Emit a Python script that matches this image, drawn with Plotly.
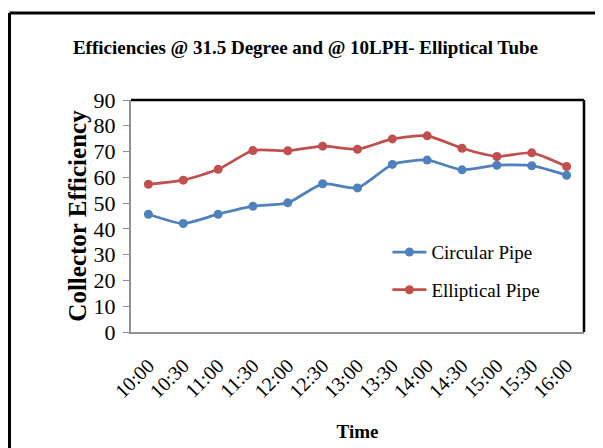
import plotly.graph_objects as go

times = ["10:00", "10:30", "11:00", "11:30", "12:00", "12:30", "13:00",
         "13:30", "14:00", "14:30", "15:00", "15:30", "16:00"]
circular = [45.7, 42.1, 45.7, 48.8, 50.1, 57.5, 55.9, 65.0, 66.7, 62.9, 64.7, 64.5, 60.8]
elliptical = [57.3, 58.9, 63.1, 70.4, 70.3, 72.1, 70.9, 74.9, 76.1, 71.3, 68.1, 69.5, 64.2]
y_ticks = [0, 10, 20, 30, 40, 50, 60, 70, 80, 90]

FONT = "Liberation Serif"
# the page body has an 8px margin, so the figure is 595x440 placed at (8, 8)
W, H = 595, 440
L, R, T, B = 123, 19, 92, 116
PW, PH = W - L - R, H - T - B

fig = go.Figure()
fig.add_trace(go.Scatter(
    x=times, y=circular, name="Circular Pipe", mode="lines+markers",
    line=dict(color="#4F81BD", width=2.75, shape="spline", smoothing=0.6),
    marker=dict(size=9, color="#4F81BD"), legendgroup="a"))
fig.add_trace(go.Scatter(
    x=times, y=elliptical, name="Elliptical Pipe", mode="lines+markers",
    line=dict(color="#C0504D", width=2.75, shape="spline", smoothing=0.6),
    marker=dict(size=9, color="#C0504D"), legendgroup="b"))

fig.update_layout(
    width=W, height=H,
    margin=dict(l=L, r=R, t=T, b=B, autoexpand=False),
    paper_bgcolor="white", plot_bgcolor="white",
    font=dict(family=FONT, color="black", size=18),
    title=dict(text="<b>Efficiencies @ 31.5 Degree and @ 10LPH- Elliptical Tube</b>",
               x=0.5, xanchor="center", y=1 - 39 / H, yanchor="middle",
               yref="container", font=dict(family=FONT, size=19)),
    showlegend=True,
    legend=dict(x=0.566, y=0.426, xanchor="left", yanchor="top",
                bgcolor="rgba(0,0,0,0)", font=dict(family=FONT, size=19),
                tracegroupgap=10, traceorder="grouped", itemwidth=34),
    xaxis=dict(type="category", range=[-0.5, 12.5], tickangle=-45,
               showline=True, linecolor="#909090", linewidth=2, automargin=False,
               ticks="", showgrid=False, tickfont=dict(size=20), ticklabelstandoff=12,
               title=dict(text="<b>Time</b>", font=dict(size=19), standoff=24)),
    yaxis=dict(range=[0, 90], tickvals=y_ticks, showline=True, linecolor="#909090",
               linewidth=2, ticks="outside", ticklen=6, tickcolor="#909090",
               automargin=False, ticklabelstandoff=3,
               showgrid=False, zeroline=False, tickfont=dict(size=22),
               title=dict(text="<b>Collector Efficiency</b>", font=dict(size=25), standoff=0)),
    shapes=[
        dict(type="line", xref="paper", yref="paper", x0=0, x1=1, y0=1, y1=1,
             line=dict(color="black", width=2.5)),
        dict(type="line", xref="paper", yref="paper", x0=1, x1=1, y0=0, y1=1,
             line=dict(color="black", width=2.5)),
        dict(type="line", xref="paper", yref="paper",
             x0=-(L - 1.5) / PW, x1=-(L - 1.5) / PW, y0=-B / PH, y1=1 + (T - 5) / PH,
             line=dict(color="black", width=3)),
        dict(type="line", xref="paper", yref="paper",
             x0=-(L - 1.5) / PW, x1=1 + R / PW, y0=1 + (T - 5) / PH, y1=1 + (T - 5) / PH,
             line=dict(color="black", width=3)),
    ],
)

fig.write_html("out.html")
